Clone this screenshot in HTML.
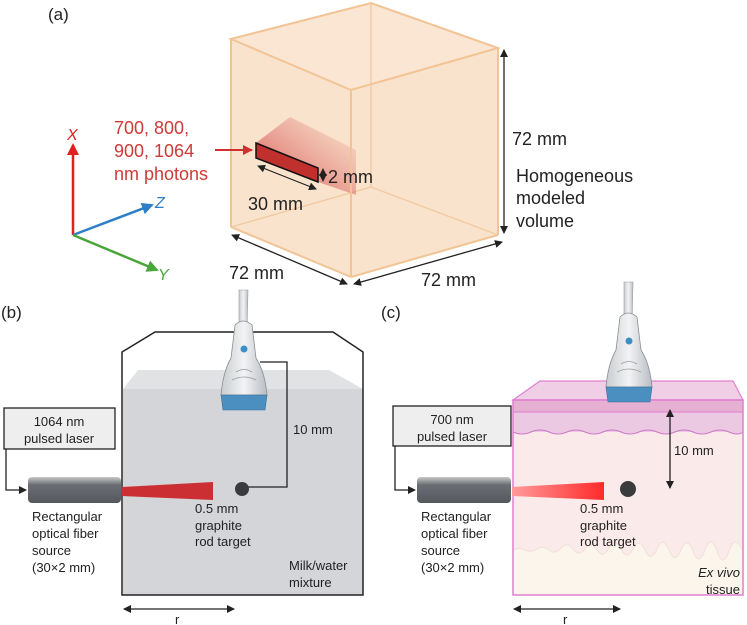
<!DOCTYPE html>
<html><head><meta charset="utf-8"><style>
html,body{margin:0;padding:0;background:#fff;}
svg{display:block;font-family:"Liberation Sans",sans-serif;}
</style></head><body>
<svg width="747" height="625" viewBox="0 0 747 625" xmlns="http://www.w3.org/2000/svg">
<defs>
<marker id="ah" markerWidth="8" markerHeight="8" refX="7" refY="4" orient="auto-start-reverse" markerUnits="userSpaceOnUse"><path d="M0,0 L8,4 L0,8 z" fill="#222"/></marker>
<marker id="ar" markerWidth="12" markerHeight="12" refX="10" refY="6" orient="auto" markerUnits="userSpaceOnUse"><path d="M0,0 L12,6 L0,12 z" fill="#e02020"/></marker>
<marker id="ab" markerWidth="12" markerHeight="12" refX="10" refY="6" orient="auto" markerUnits="userSpaceOnUse"><path d="M0,0 L12,6 L0,12 z" fill="#2f7fc8"/></marker>
<marker id="ag" markerWidth="12" markerHeight="12" refX="10" refY="6" orient="auto" markerUnits="userSpaceOnUse"><path d="M0,0 L12,6 L0,12 z" fill="#4aa63a"/></marker>
<marker id="arr" markerWidth="10" markerHeight="10" refX="9" refY="5" orient="auto" markerUnits="userSpaceOnUse"><path d="M0,0 L10,5 L0,10 z" fill="#d03030"/></marker>
<linearGradient id="cyl" x1="0" y1="0" x2="0" y2="1"><stop offset="0" stop-color="#c8c8c8"/><stop offset="0.3" stop-color="#6a6e74"/><stop offset="1" stop-color="#55595e"/></linearGradient>
<linearGradient id="beamc" x1="0" y1="0" x2="1" y2="0"><stop offset="0" stop-color="#ff9a9a"/><stop offset="1" stop-color="#ff2a2a"/></linearGradient>
<linearGradient id="glow" x1="0" y1="1" x2="1" y2="0"><stop offset="0" stop-color="#c33" stop-opacity="0.8"/><stop offset="1" stop-color="#d66" stop-opacity="0"/></linearGradient>
<linearGradient id="probe" x1="0" y1="0" x2="1" y2="0"><stop offset="0" stop-color="#c9ccd0"/><stop offset="0.5" stop-color="#f2f3f4"/><stop offset="1" stop-color="#b9bdc2"/></linearGradient>
</defs>

<!-- Panel a -->
<text x="48" y="20" font-size="17" fill="#222">(a)</text>
<polygon points="231,39 371,3 498,48 498,235 351,277 231,227" fill="#f9e3cc" stroke="none"/>
<polygon points="231,39 371,3 498,48 351,90" fill="#fae6d2"/>
<g stroke="#f0c9a0" stroke-width="1.3" fill="none">
<line x1="371" y1="3" x2="371" y2="187"/><line x1="231" y1="227" x2="371" y2="187"/><line x1="371" y1="187" x2="498" y2="235"/>
</g>
<polygon points="256,143 290,117 356,150 356,195 318,182" fill="url(#glow)"/>
<g stroke="#f2c394" stroke-width="2" fill="none">
<polygon points="231,39 371,3 498,48 351,90"/>
<line x1="231" y1="39" x2="231" y2="227"/><line x1="351" y1="90" x2="351" y2="277"/><line x1="498" y1="48" x2="498" y2="235"/>
<line x1="231" y1="227" x2="351" y2="277"/><line x1="351" y1="277" x2="498" y2="235"/>
</g>
<polygon points="256,143 318,168 318,182 256,158" fill="#c0302c" stroke="#111" stroke-width="1.5"/>
<line x1="504" y1="50" x2="504" y2="233" stroke="#222" stroke-width="1.3" marker-start="url(#ah)" marker-end="url(#ah)"/>
<line x1="232" y1="235" x2="347" y2="284" stroke="#222" stroke-width="1.3" marker-start="url(#ah)" marker-end="url(#ah)"/>
<line x1="354" y1="284" x2="502" y2="242" stroke="#222" stroke-width="1.3" marker-start="url(#ah)" marker-end="url(#ah)"/>
<line x1="258" y1="166" x2="316" y2="189" stroke="#222" stroke-width="1.2" marker-start="url(#ah)" marker-end="url(#ah)"/>
<line x1="323" y1="169" x2="323" y2="181" stroke="#222" stroke-width="1" marker-start="url(#ah)" marker-end="url(#ah)"/>
<g font-size="18" fill="#222">
<text x="328" y="183">2 mm</text>
<text x="248" y="210">30 mm</text>
<text x="512" y="145">72 mm</text>
<text x="516" y="182">Homogeneous</text><text x="516" y="204">modeled</text><text x="516" y="227">volume</text>
<text x="229" y="279">72 mm</text><text x="421" y="286">72 mm</text>
</g>
<g font-size="18" fill="#d03a36">
<text x="114" y="134">700, 800,</text><text x="114" y="157">900, 1064</text><text x="114" y="180">nm photons</text>
</g>
<line x1="215" y1="150" x2="252" y2="150" stroke="#d03030" stroke-width="2" marker-end="url(#arr)"/>
<line x1="73" y1="235" x2="73" y2="145" stroke="#e02020" stroke-width="2.5" marker-end="url(#ar)"/>
<line x1="73" y1="235" x2="152" y2="205" stroke="#2f7fc8" stroke-width="2.5" marker-end="url(#ab)"/>
<line x1="73" y1="235" x2="157" y2="270" stroke="#4aa63a" stroke-width="2.5" marker-end="url(#ag)"/>
<text x="67" y="140" font-size="16" font-style="italic" fill="#e02020">X</text>
<text x="155" y="208" font-size="16" font-style="italic" fill="#2f7fc8">Z</text>
<text x="158" y="280" font-size="16" font-style="italic" fill="#4aa63a">Y</text>

<!-- Panel b -->
<text x="1" y="318" font-size="17" fill="#222">(b)</text>
<rect x="123" y="389" width="240" height="206" fill="#d3d5d8"/>
<polygon points="138,370 329,370 363,389 123,389" fill="#e0e2e4"/>
<polygon points="122,595 122,352 155,332 333,332 363,352 363,595" fill="none" stroke="#222" stroke-width="1.5"/>
<polyline points="260,362 287,362 287,487 247,487" fill="none" stroke="#222" stroke-width="1.3"/>
<circle cx="242" cy="489" r="7" fill="#3a3b3d"/>
<g id="probeB">
<path d="M239,290 L248,290 L247,330 L239,330 z" fill="url(#probe)" stroke="#999" stroke-width="0.6"/>
<path d="M235,325 Q243,317 252,325 L256,358 Q265,372 267,395 L221,395 Q223,372 231,358 z" fill="url(#probe)" stroke="#8a8e94" stroke-width="0.8"/>
<path d="M236,372 Q244,367 252,372 M232,380 Q244,374 256,380" fill="none" stroke="#999" stroke-width="0.8"/>
<circle cx="244" cy="349" r="3.5" fill="#3a8fc4"/>
<path d="M221,395 L267,395 L265,410 L223,410 z" fill="#4a8fbf" stroke="#3a6f96" stroke-width="0.6"/>
</g>
<text x="293" y="434" font-size="13" fill="#222">10 mm</text>
<rect x="4" y="408" width="111" height="41" fill="#eee" stroke="#222" stroke-width="1.3"/>
<text x="59" y="426" font-size="13" text-anchor="middle" fill="#222">1064 nm</text>
<text x="59" y="443" font-size="13" text-anchor="middle" fill="#222">pulsed laser</text>
<polyline points="6,449 6,490 26,490" fill="none" stroke="#222" stroke-width="1.3" marker-end="url(#ah)"/>
<rect x="28" y="477" width="93" height="26" rx="4" fill="url(#cyl)"/>
<polygon points="122,487 213,482 213,500 122,496" fill="#cc2f33"/>
<g font-size="13" fill="#222">
<text x="195" y="513">0.5 mm</text><text x="195" y="530">graphite</text><text x="195" y="546">rod target</text>
<text x="32" y="521">Rectangular</text><text x="32" y="538">optical fiber</text><text x="32" y="555">source</text><text x="32" y="572">(30×2 mm)</text>
<text x="289" y="570">Milk/water</text><text x="289" y="587">mixture</text>
<text x="175" y="624">r</text>
</g>
<line x1="124" y1="609" x2="234" y2="609" stroke="#222" stroke-width="1.3" marker-start="url(#ah)" marker-end="url(#ah)"/>

<!-- Panel c -->
<text x="381" y="318" font-size="17" fill="#222">(c)</text>
<rect x="513" y="400" width="230" height="195" fill="#fbeaea"/>
<path d="M513,550 q6,-3 12,0 t12,-1 t12,1 t12,-2 t12,1 t12,0 t12,1 t12,-2 t12,1 t12,0 t12,1 t12,-1 t12,1 t12,0 t12,1 t12,-1 t12,1 t12,0 t14,0 L743,595 L513,595 z" fill="#fcf5ec" stroke="#f0e0d8" stroke-width="1"/>
<rect x="513" y="412" width="230" height="20" fill="#ecc9e2"/>
<path d="M513,432 q9,4 18,0 t18,0 t18,0 t18,0 t18,0 t18,0 t18,0 t18,0 t18,0 t18,0 t18,0 t18,0 t14,0" fill="#ecc9e2" stroke="#cc77c8" stroke-width="1"/>
<rect x="513" y="400" width="230" height="12" fill="#e6b0d2"/>
<polygon points="540,381 733,381 743,400 513,400" fill="#f0cfe6" stroke="#e07fcf" stroke-width="1.2"/>
<line x1="513" y1="412" x2="743" y2="412" stroke="#e07fcf" stroke-width="1"/>
<rect x="513" y="400" width="230" height="195" fill="none" stroke="#e07fcf" stroke-width="1.5"/>
<use href="#probeB" transform="translate(385,-8)"/>
<line x1="670" y1="410" x2="670" y2="488" stroke="#222" stroke-width="1.3" marker-start="url(#ah)" marker-end="url(#ah)"/>
<text x="674" y="455" font-size="13" fill="#222">10 mm</text>
<circle cx="628" cy="489" r="8" fill="#3a3b3d"/>
<rect x="393" y="406" width="118" height="40" fill="#eee" stroke="#222" stroke-width="1.3"/>
<text x="452" y="424" font-size="13" text-anchor="middle" fill="#222">700 nm</text>
<text x="452" y="441" font-size="13" text-anchor="middle" fill="#222">pulsed laser</text>
<polyline points="395,446 395,490 415,490" fill="none" stroke="#222" stroke-width="1.3" marker-end="url(#ah)"/>
<rect x="417" y="477" width="94" height="26" rx="4" fill="url(#cyl)"/>
<polygon points="512,487 604,482 604,500 512,496" fill="url(#beamc)"/>
<g font-size="13" fill="#222">
<text x="580" y="513">0.5 mm</text><text x="580" y="530">graphite</text><text x="580" y="546">rod target</text>
<text x="421" y="521">Rectangular</text><text x="421" y="538">optical fiber</text><text x="421" y="555">source</text><text x="421" y="572">(30×2 mm)</text>
<text x="740" y="577" text-anchor="end" font-style="italic">Ex vivo</text><text x="740" y="594" text-anchor="end">tissue</text>
<text x="563" y="624">r</text>
</g>
<line x1="514" y1="609" x2="620" y2="609" stroke="#222" stroke-width="1.3" marker-start="url(#ah)" marker-end="url(#ah)"/>
</svg>
</body></html>
